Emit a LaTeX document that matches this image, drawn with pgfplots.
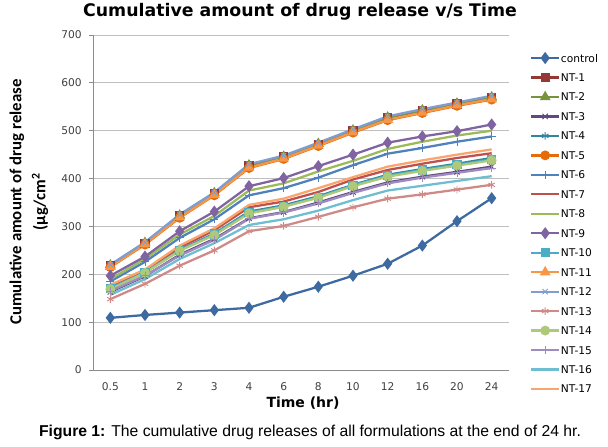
\documentclass[border=0pt]{standalone}
\usepackage{fontspec}
\setmainfont{DejaVu Sans}
\newfontfamily\calibri{Carlito}
\newfontfamily\arial{Liberation Sans}
\usepackage{pgfplots}
\usepackage{pgfplotstable}
\pgfplotsset{compat=1.18}

\definecolor{c0}{HTML}{3D6AA1}
\definecolor{c1}{HTML}{953735}
\definecolor{c2}{HTML}{77933C}
\definecolor{c3}{HTML}{604A7B}
\definecolor{c4}{HTML}{31859C}
\definecolor{c5}{HTML}{E46C0A}
\definecolor{c6}{HTML}{4F81BD}
\definecolor{c7}{HTML}{C0504D}
\definecolor{c8}{HTML}{9BBB59}
\definecolor{c9}{HTML}{8064A2}
\definecolor{c10}{HTML}{4BACC6}
\definecolor{c11}{HTML}{F79646}
\definecolor{c12}{HTML}{7F9ECF}
\definecolor{c13}{HTML}{CF8A88}
\definecolor{c14}{HTML}{AFC97A}
\definecolor{c15}{HTML}{9E8BC0}
\definecolor{c16}{HTML}{6FBDD1}
\definecolor{c17}{HTML}{F8A66E}
\definecolor{gridgray}{HTML}{BFBFBF}
\definecolor{axisgray}{HTML}{8C8C8C}
\definecolor{ticktext}{HTML}{404040}

% cumulative release (ug/cm2); t = category index of 0.5,1,2,3,4,6,8,10,12,16,20,24 hr
\pgfplotstableread{
t  ctrl n1  n2  n3  n4  n5  n6  n7  n8  n9  n10 n11 n12 n13 n14 n15 n16 n17
0  109  218 219 163 172 215 185 175 190 197 171 216 220 148 169 165 157 178
1  115  265 266 196 205 262 226 207 232 237 204 263 267 180 203 197 190 210
2  120  322 323 241 251 318 276 256 283 290 250 319 325 218 249 239 232 260
3  125  369 370 274 285 365 315 292 322 331 284 366 371 250 282 272 265 296
4  130  427 428 317 331 422 365 340 375 384 329 423 430 290 327 316 303 345
5  153  445 446 330 344 441 380 352 390 401 342 442 448 301 341 329 315 358
6  174  472 473 350 363 468 402 372 415 426 361 469 475 320 360 348 333 380
7  197  500 501 372 387 496 428 398 437 450 386 497 503 340 384 370 355 403
8  222  527 528 392 408 522 452 418 462 475 406 523 530 358 404 390 375 425
9  260  542 543 404 420 537 464 431 477 488 418 538 545 367 416 402 385 438
10 311  556 557 414 431 552 477 443 490 499 429 553 559 377 427 412 395 450
11 359  569 570 425 443 565 488 453 500 513 440 566 573 387 438 422 405 461
}\release

\begin{document}
\begin{tikzpicture}
\useasboundingbox (-69.75pt,-57.75pt) rectangle (386.25pt,277.5pt);
\begin{axis}[
    scale only axis,
    width=312pt, height=251.25pt,
    xmin=-0.5, xmax=11.5,
    ymin=0, ymax=700,
    xtick={0,...,11},
    xticklabels={0.5,1,2,3,4,6,8,10,12,16,20,24},
    ytick={0,100,...,700},
    axis x line=bottom, axis y line=left,
    axis line style={draw=axisgray, line width=0.6pt, -},
    ymajorgrids, grid style={gridgray, line width=0.6pt},
    xtick style={draw=none},
    ytick style={draw=axisgray, line width=0.6pt},
    tick align=outside, major tick length=3pt,
    ticklabel style={font=\fontsize{8}{9}\selectfont, text=ticktext},
    /pgf/number format/assume math mode=true,
    yticklabel style={xshift=-2pt},
    xticklabel style={yshift=-3pt},
    clip=false,
    every axis plot/.append style={line width=1.7pt},
    legend image code/.code={
      \draw[mark repeat=2,mark phase=2,#1] plot coordinates {(0pt,0pt) (10.5pt,0pt) (21pt,0pt)};
    },
    legend style={draw=none, fill=none, at={(1.05,0.946)}, anchor=north west,
      font=\fontsize{8}{9}\selectfont, inner sep=0pt, row sep=7.6pt,
      nodes={inner sep=0.5pt, text height=6pt, text depth=0pt}},
    legend cell align=left,
]
\addplot[c0, mark=diamond*, mark size=3.2pt] table[x=t, y=ctrl] {\release};
\addlegendentry{control}
\addplot[c1, mark=square*, mark size=2.6pt] table[x=t, y=n1] {\release};
\addlegendentry{NT-1}
\addplot[c2, mark=triangle*, mark size=3pt] table[x=t, y=n2] {\release};
\addlegendentry{NT-2}
\addplot[c3, mark=x, mark size=2.8pt, mark options={line width=0.7pt}] table[x=t, y=n3] {\release};
\addlegendentry{NT-3}
\addplot[c4, mark=asterisk, mark size=2.8pt, mark options={line width=0.7pt}] table[x=t, y=n4] {\release};
\addlegendentry{NT-4}
\addplot[c5, mark=*, mark size=2.8pt] table[x=t, y=n5] {\release};
\addlegendentry{NT-5}
\addplot[c6, mark=+, mark size=3pt, mark options={line width=0.7pt}] table[x=t, y=n6] {\release};
\addlegendentry{NT-6}
\addplot[c7] table[x=t, y=n7] {\release};
\addlegendentry{NT-7}
\addplot[c8] table[x=t, y=n8] {\release};
\addlegendentry{NT-8}
\addplot[c9, mark=diamond*, mark size=3.2pt] table[x=t, y=n9] {\release};
\addlegendentry{NT-9}
\addplot[c10, mark=square*, mark size=2.6pt] table[x=t, y=n10] {\release};
\addlegendentry{NT-10}
\addplot[c11, mark=triangle*, mark size=3pt] table[x=t, y=n11] {\release};
\addlegendentry{NT-11}
\addplot[c12, mark=x, mark size=2.8pt, mark options={line width=0.7pt}] table[x=t, y=n12] {\release};
\addlegendentry{NT-12}
\addplot[c13, mark=asterisk, mark size=2.8pt, mark options={line width=0.7pt}] table[x=t, y=n13] {\release};
\addlegendentry{NT-13}
\addplot[c14, mark=*, mark size=2.8pt] table[x=t, y=n14] {\release};
\addlegendentry{NT-14}
\addplot[c15, mark=+, mark size=3pt, mark options={line width=0.7pt}] table[x=t, y=n15] {\release};
\addlegendentry{NT-15}
\addplot[c16] table[x=t, y=n16] {\release};
\addlegendentry{NT-16}
\addplot[c17] table[x=t, y=n17] {\release};
\addlegendentry{NT-17}
\end{axis}
\node[font=\bfseries\fontsize{13}{15}\selectfont] at (155.25pt,268.5pt) {Cumulative amount of drug release v/s Time};
\node[font=\bfseries\fontsize{10.5}{12}\selectfont] at (157.5pt,-24.75pt) {Time (hr)};
\node[rotate=90, font=\calibri\bfseries\fontsize{12.6}{14}\selectfont] at (-57pt,126pt) {Cumulative amount of drug release};
\node[rotate=90, font=\calibri\bfseries\fontsize{12.6}{14}\selectfont] at (-39.75pt,126pt) {(µg/cm\textsuperscript{2}};
\node[font=\arial\fontsize{11.8}{13}\selectfont] at (162.75pt,-46.5pt) {\textbf{Figure 1:} The cumulative drug releases of all formulations at the end of 24 hr.};
\end{tikzpicture}
\end{document}
